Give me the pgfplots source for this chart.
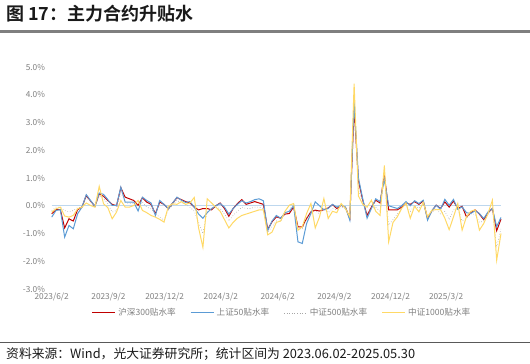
\documentclass[border=0pt]{standalone}
\usepackage{fontspec}
\setmainfont{Noto Sans CJK SC}[BoldFont=* Bold]
\usepackage{pgfplots}
\pgfplotsset{compat=1.18}
\definecolor{hsred}{HTML}{C00000}
\definecolor{szblue}{HTML}{5B9BD5}
\definecolor{zzgray}{HTML}{A6A6A6}
\definecolor{zzyellow}{HTML}{FFD966}
\definecolor{zeroblue}{HTML}{BDD7EE}
\definecolor{tickgray}{HTML}{7F7F7F}
\pgfplotstableread{
d red blue gray yellow
0 -0.29 -0.41 -0.17 -0.23
7 -0.14 -0.17 -0.05 -0.11
14 -0.14 -0.14 -0.05 -0.05
21 -0.80 -1.13 -0.17 -0.37
28 -0.47 -0.71 -0.23 -0.41
35 -0.55 -0.83 -0.17 -0.35
42 -0.14 -0.29 -0.07 -0.11
49 -0.05 -0.05 -0.05 -0.05
56 0.37 0.40 0.31 0.10
63 0.17 0.19 0.13 0.01
70 -0.02 -0.02 -0.02 -0.05
77 0.43 0.46 0.37 0.70
84 0.34 0.41 0.25 0.07
91 0.19 0.22 0.07 -0.07
98 0.05 0.01 -0.23 -0.47
105 0.00 0.01 -0.17 -0.23
112 0.65 0.67 0.49 0.19
119 0.31 0.13 0.13 -0.05
126 0.25 0.13 0.07 -0.05
133 0.19 0.13 0.10 0.01
140 0.01 -0.19 -0.02 0.19
147 0.29 0.31 0.13 -0.17
154 0.13 0.19 -0.05 -0.25
161 0.05 0.10 -0.11 -0.35
168 -0.29 -0.35 -0.29 -0.41
175 0.13 0.19 -0.41 -0.49
182 0.05 0.05 -0.53 -0.59
189 -0.11 -0.11 -0.14 -0.02
196 0.10 0.10 0.01 0.07
203 0.29 0.31 0.20 0.05
210 0.22 0.20 0.10 0.15
217 0.15 0.12 0.05 0.05
224 0.10 0.15 -0.05 0.10
231 -0.05 -0.05 -0.20 0.30
238 -0.15 -0.30 -0.60 -0.80
245 -0.10 -0.45 -1.00 -1.50
252 -0.10 -0.25 -0.20 0.25
259 -0.15 -0.10 -0.10 0.10
266 0.00 0.00 -0.05 -0.05
273 0.10 0.08 -0.10 -0.20
280 -0.10 -0.05 -0.30 -0.50
287 -0.38 -0.30 -0.55 -0.80
294 -0.10 -0.10 -0.35 -0.60
301 0.08 0.05 -0.20 -0.45
308 0.22 0.18 -0.05 -0.35
315 0.05 0.10 -0.10 -0.30
322 0.10 0.15 -0.10 -0.25
329 0.15 0.22 -0.05 -0.20
336 0.10 0.25 -0.05 -0.15
343 0.05 0.18 -0.10 -0.15
350 -0.85 -0.90 -0.95 -1.05
357 -0.58 -0.55 -0.75 -0.95
364 -0.40 -0.35 -0.55 -0.60
371 -0.45 -0.45 -0.55 -0.55
378 -0.30 -0.25 -0.30 -0.20
385 -0.28 -0.20 -0.15 0.02
392 -0.04 0.00 0.05 0.08
399 -0.76 -1.30 -0.80 -0.88
406 -0.76 -1.36 -0.85 -0.76
413 -0.46 -0.64 -0.45 -0.28
420 -0.22 -0.28 -0.20 0.08
427 -0.16 0.14 -0.15 -0.80
434 -0.19 0.00 -0.30 -0.40
441 -0.14 -0.15 -0.10 0.26
448 -0.08 -0.10 -0.25 -0.46
455 0.04 0.05 -0.10 -0.20
462 -0.10 -0.05 -0.15 -0.25
469 0.02 0.02 -0.05 0.08
476 -0.06 -0.05 -0.10 -0.10
483 -0.46 -0.52 -0.40 -0.40
490 3.55 3.74 4.00 4.40
497 0.90 1.00 0.60 0.35
504 0.20 0.25 0.10 0.05
511 -0.35 -0.45 -0.30 -0.05
518 -0.05 -0.10 -0.10 0.20
525 0.20 0.25 -0.05 -0.20
532 0.10 0.15 -0.20 -0.35
539 1.10 0.95 1.05 1.45
546 -0.15 0.00 -0.70 -1.30
553 -0.15 -0.05 -0.50 -0.60
560 -0.15 -0.10 -0.30 -0.40
567 -0.05 0.00 -0.10 -0.10
574 0.10 0.15 0.05 0.10
581 0.05 0.00 -0.20 -0.45
588 0.15 0.18 0.00 -0.02
595 0.05 0.08 -0.10 -0.22
602 0.17 0.20 0.10 0.12
609 -0.46 -0.52 -0.45 -0.40
616 -0.18 -0.18 -0.25 -0.16
623 0.02 0.02 -0.10 -0.14
630 -0.10 -0.13 -0.30 -0.14
637 0.14 0.23 -0.20 -0.45
644 -0.05 0.02 -0.50 -0.86
651 0.17 0.23 -0.15 -0.40
658 -0.10 -0.13 -0.10 0.08
665 -0.02 -0.04 -0.55 -0.88
672 -0.40 -0.25 -0.45 -0.40
679 -0.25 -0.28 -0.30 -0.20
686 -0.15 -0.18 -0.30 -0.15
693 -0.30 -0.28 -0.60 -0.88
700 -0.50 -0.46 -0.55 -0.64
707 -0.25 -0.22 -0.30 -0.28
714 -0.10 -0.10 -0.10 0.20
721 -0.90 -0.75 -1.50 -1.96
728 -0.48 -0.42 -0.82 -1.00
}\basis
\begin{document}
\begin{tikzpicture}
\path[use as bounding box] (0pt,0pt) rectangle (530pt,364pt);
% title
\node[anchor=west, inner sep=0pt, text=black!90] at (6pt,350pt) {\fontsize{18}{20}\selectfont\bfseries 图 17：主力合约升贴水};
\fill[tickgray] (0pt,331pt) rectangle (530pt,333.5pt);
% footer
\fill[black!65] (0pt,20.8pt) rectangle (530pt,21.8pt);
\node[anchor=west, inner sep=0pt, text=black!90] at (6pt,10pt) {\fontsize{12.8}{14}\selectfont 资料来源：Wind，光大证券研究所；统计区间为 2023.06.02-2025.05.30};
\begin{axis}[
  at={(51.7pt,75pt)}, anchor=south west,
  scale only axis, width=449.3pt, height=222pt,
  xmin=0, xmax=728, ymin=-3, ymax=5,
  clip=false,
  axis line style={draw=none},
  major tick length=0pt,
  xtick={0,92,183,274,366,458,549,639},
  xticklabels={2023/6/2,2023/9/2,2023/12/2,2024/3/2,2024/6/2,2024/9/2,2024/12/2,2025/3/2},
  ytick={-3,-2,-1,0,1,2,3,4,5},
  yticklabels={-3.0\%,-2.0\%,-1.0\%,0.0\%,1.0\%,2.0\%,3.0\%,4.0\%,5.0\%},
  tick label style={font=\fontsize{8.3}{10}\selectfont, text=tickgray},
  yticklabel style={inner sep=0pt, xshift=-6.5pt},
  xticklabel style={inner sep=0pt, yshift=-3.5pt},
  legend columns=4,
  legend style={draw=none, fill=none, at={(0.089,-0.108)}, anchor=west, inner sep=0pt,
    font=\fontsize{8.6}{10}\selectfont, text=tickgray,
    nodes={inner xsep=2.5pt, inner ysep=1pt},
    /tikz/every even column/.append style={column sep=12pt}},
  legend image code/.code={\draw[#1] (0pt,0pt) -- (23pt,0pt);},
]
\addplot[zeroblue, line width=1.4pt, forget plot] coordinates {(0,0) (728,0)};
\addplot[hsred, line width=1pt] table[x=d, y=red] {\basis};
\addlegendentry{沪深300贴水率}
\addplot[szblue, line width=1pt] table[x=d, y=blue] {\basis};
\addlegendentry{上证50贴水率}
\addplot[zzgray, line width=0.6pt, dotted] table[x=d, y=gray] {\basis};
\addlegendentry{中证500贴水率}
\addplot[zzyellow, line width=1pt] table[x=d, y=yellow] {\basis};
\addlegendentry{中证1000贴水率}
\end{axis}
\end{tikzpicture}
\end{document}
